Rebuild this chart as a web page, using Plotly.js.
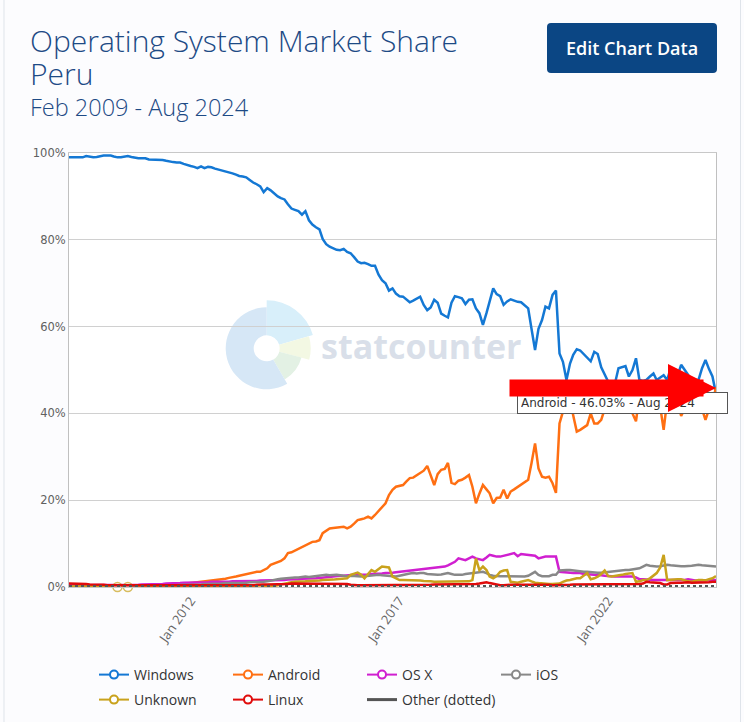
<!DOCTYPE html>
<html><head><meta charset="utf-8">
<script src="https://cdn.plot.ly/plotly-3.0.1.min.js"></script>
<style>html,body{margin:0;padding:0;background:#fff}#chart{width:744px;height:722px}</style>
</head><body><div id="chart"></div>
<script>
// ---------------- DATA ----------------
const startMonth = '2009-02';
const tickDates = ['2012-01-01', '2017-01-01', '2022-01-01'];
const tickLabels = ['Jan 2012', 'Jan 2017', 'Jan 2022'];
const yTickVals = [0, 20, 40, 60, 80, 100];
const yTickLabels = ['0%', '20%', '40%', '60%', '80%', '100%'];
const seriesNames = ['Windows', 'Android', 'OS X', 'iOS', 'Unknown', 'Linux', 'Other (dotted)'];
const titleLines = ['Operating System Market Share', 'Peru'];
const subtitle = 'Feb 2009 - Aug 2024';

const windows = [
99.0,99.0,99.0,99.0,99.0,99.3,99.1,99.0,99.1,99.3,
99.4,99.4,99.4,99.2,99.0,99.0,99.1,99.3,99.1,98.9,
98.8,98.8,98.8,98.5,98.5,98.5,98.5,98.4,98.2,98.0,
97.9,97.8,97.8,97.5,97.2,97.0,96.8,96.5,96.9,96.5,
96.8,96.7,96.4,96.2,96.0,95.8,95.5,95.3,95.0,94.7,
94.6,94.4,93.8,93.2,92.8,92.3,91.0,91.9,91.4,90.6,
90.0,89.6,89.3,88.2,87.2,86.9,86.6,85.8,86.6,84.5,
83.5,82.9,82.4,80.2,79.0,78.4,78.0,77.7,77.6,77.9,
77.2,76.9,76.0,75.0,74.6,74.7,74.4,74.0,74.0,72.0,
70.7,70.0,68.3,68.8,67.6,67.0,66.9,66.3,65.6,66.0,
66.5,66.9,65.0,63.8,64.4,66.2,65.5,63.0,62.5,62.1,
65.5,67.0,66.8,66.5,65.2,66.2,66.3,64.2,63.1,60.4,
63.1,66.0,68.8,67.5,67.0,65.0,65.8,66.3,66.0,65.7,
65.6,65.0,64.2,59.5,54.6,59.5,61.5,64.6,64.2,67.3,
68.3,53.8,51.9,47.7,51.5,53.5,54.8,54.5,53.6,52.9,
52.0,54.2,53.7,50.6,49.0,47.3,47.0,46.9,50.4,50.6,
50.9,48.5,50.0,52.7,47.7,47.5,47.7,48.5,49.2,47.7,
48.2,48.8,47.7,50.4,49.5,48.8,51.2,50.0,48.8,47.7,
47.7,47.7,50.4,52.3,50.2,48.5,44.5];

const android = [
0.0,0.0,0.0,0.0,0.0,0.1,0.1,0.1,0.1,0.1,
0.1,0.1,0.1,0.1,0.1,0.1,0.2,0.2,0.2,0.2,
0.2,0.2,0.3,0.3,0.3,0.3,0.4,0.4,0.5,0.5,
0.6,0.6,0.7,0.7,0.8,0.9,1.0,1.0,1.1,1.2,
1.3,1.4,1.5,1.6,1.7,1.9,2.1,2.2,2.4,2.6,
2.8,3.0,3.2,3.4,3.5,3.5,3.9,4.3,5.1,5.4,
5.8,6.0,6.6,7.8,8.0,8.4,8.8,9.3,9.6,10.0,
10.4,10.5,10.8,12.4,13.0,13.5,13.6,13.7,13.8,13.9,
13.5,13.9,14.6,15.4,15.6,15.8,16.2,15.8,16.6,17.4,
18.3,19.3,21.2,22.4,23.1,23.3,23.5,24.3,25.1,25.2,
25.8,26.3,26.8,27.9,25.5,23.5,26.0,27.0,27.2,28.6,
24.0,23.7,24.5,24.7,25.2,25.8,23.1,19.3,21.5,23.5,
22.5,21.6,19.3,20.5,20.6,22.4,20.4,22.0,22.5,23.1,
23.6,24.3,24.7,28.5,33.1,27.3,25.4,25.2,25.4,23.9,
21.7,37.7,40.4,44.0,43.1,39.5,35.8,36.2,36.8,37.3,
40.0,37.7,37.7,38.5,41.0,44.0,45.0,44.5,42.5,40.5,
41.0,42.5,40.0,38.2,44.0,44.0,44.5,44.0,43.0,42.5,
41.5,36.2,43.0,41.0,42.0,43.0,39.4,41.0,43.0,44.0,
44.0,43.0,41.0,38.5,41.0,42.5,46.03];

const osx = [
0.4,0.4,0.4,0.4,0.4,0.4,0.4,0.4,0.4,0.4,
0.4,0.4,0.5,0.5,0.5,0.5,0.5,0.5,0.5,0.5,
0.5,0.6,0.6,0.6,0.6,0.7,0.7,0.7,0.8,0.8,
0.8,0.9,0.9,1.0,1.0,1.0,1.0,1.1,1.1,1.1,
1.1,1.2,1.2,1.1,1.2,1.2,1.2,1.3,1.3,1.3,
1.3,1.3,1.4,1.4,1.4,1.5,1.5,1.6,1.5,1.5,
1.5,1.5,1.6,1.7,1.7,1.8,1.8,1.9,1.9,2.0,
2.0,2.0,2.1,2.2,2.3,2.4,2.4,2.5,2.6,2.6,
2.7,2.7,2.8,2.8,2.8,2.9,2.9,3.0,3.0,3.1,
3.1,3.2,3.2,3.3,3.4,3.5,3.6,3.7,3.8,3.9,
4.0,4.1,4.1,4.2,4.3,4.4,4.5,4.6,4.7,5.0,
5.5,5.8,6.6,6.4,6.2,6.6,7.0,6.6,6.4,6.2,
6.8,7.4,7.2,7.0,7.0,7.2,7.4,7.6,7.8,7.1,
7.6,7.5,7.4,7.4,7.2,6.6,6.8,7.0,7.0,7.0,
7.0,3.5,3.4,3.3,3.3,3.2,3.2,3.2,3.0,3.0,
2.9,2.8,2.8,2.7,2.6,2.5,2.4,2.4,2.4,2.4,
2.4,2.4,2.4,2.2,1.8,1.8,1.7,1.7,1.6,1.6,
1.6,1.6,1.5,1.5,1.5,1.5,1.5,1.6,1.8,1.6,
1.5,1.5,1.5,1.6,1.6,1.6,1.6];

const ios = [
0.1,0.1,0.1,0.1,0.1,0.1,0.1,0.1,0.1,0.1,
0.1,0.1,0.1,0.2,0.2,0.2,0.2,0.2,0.2,0.2,
0.2,0.3,0.3,0.3,0.3,0.3,0.3,0.4,0.4,0.4,
0.4,0.4,0.5,0.5,0.5,0.5,0.6,0.6,0.6,0.7,
0.7,0.7,0.8,0.8,0.8,0.9,0.9,0.9,1.0,1.0,
1.0,1.0,1.1,1.1,1.2,1.2,1.2,1.3,1.5,1.7,
1.8,1.9,2.0,2.0,2.1,2.2,2.2,2.3,2.4,2.3,
2.4,2.5,2.6,2.7,2.8,2.7,2.8,2.8,2.7,2.6,
2.5,2.6,2.5,2.4,2.4,2.5,2.6,2.7,2.8,2.8,
2.7,2.6,2.5,2.4,2.4,2.6,2.8,3.0,3.1,3.2,
3.1,3.2,3.2,3.0,2.9,2.8,2.8,2.9,3.1,3.2,
3.0,2.8,2.8,2.8,3.0,3.1,3.2,3.2,3.3,3.5,
3.2,2.8,2.6,2.5,2.5,2.5,2.5,2.5,2.5,2.5,
2.4,2.4,2.6,3.0,3.5,2.8,2.5,2.5,2.5,2.8,
2.8,3.8,3.9,3.9,3.9,3.8,3.7,3.5,3.5,3.5,
3.4,3.4,3.3,3.3,3.4,3.5,3.5,3.6,3.8,3.8,
3.9,3.9,4.0,4.1,4.3,4.7,5.1,4.9,4.8,4.7,
4.8,5.0,5.1,5.0,4.9,4.8,4.8,4.8,4.8,4.9,
5.0,5.1,5.0,4.9,4.8,4.8,4.7];

const unknown = [
0.1,0.1,0.1,0.1,0.1,0.1,0.1,0.1,0.1,0.1,
0.1,0.1,0.1,null,0.0,null,null,0.0,null,0.1,
0.1,0.1,0.1,0.1,0.1,0.1,0.1,0.1,0.1,0.1,
0.1,0.1,0.1,0.1,0.1,0.1,0.1,0.1,0.1,0.1,
0.1,0.1,0.1,0.1,0.2,0.2,0.2,0.2,0.2,0.2,
0.2,0.2,0.2,0.2,0.3,0.4,0.3,0.1,0.1,0.2,
0.4,0.6,0.8,1.0,1.1,1.2,1.2,1.2,1.3,1.4,
1.4,1.5,1.5,1.6,1.6,1.6,1.7,1.8,1.9,2.0,
2.0,2.8,3.0,3.3,2.8,2.0,3.0,3.9,3.5,4.0,
4.7,4.6,4.5,2.4,2.0,1.6,1.6,1.6,1.6,1.6,
1.6,1.5,1.4,1.4,1.3,1.2,1.2,1.2,1.2,1.2,
1.2,1.2,1.2,1.2,1.2,1.3,1.6,6.6,3.9,4.7,
3.9,2.4,2.0,2.5,3.5,3.8,3.9,1.2,1.1,1.0,
1.2,1.4,1.6,1.3,1.0,0.9,0.8,0.8,0.7,0.7,
0.7,0.8,1.2,1.5,1.6,1.8,2.0,2.0,2.6,3.2,
1.8,2.0,2.4,3.0,3.8,2.5,2.4,2.5,2.6,2.8,
3.0,3.1,3.2,1.2,1.3,1.6,1.6,2.0,2.6,3.2,
4.5,7.4,1.6,1.7,1.8,1.8,1.8,1.5,1.3,1.2,
1.4,1.6,1.6,1.5,1.8,2.0,2.5];

const linux = [
0.8,0.8,0.8,0.8,0.7,0.7,0.6,0.6,0.5,0.5,
0.5,0.4,0.4,0.4,0.4,0.4,0.4,0.4,0.4,0.4,
0.4,0.4,0.4,0.4,0.4,0.3,0.3,0.3,0.3,0.3,
0.3,0.3,0.3,0.3,0.3,0.3,0.3,0.3,0.3,0.3,
0.3,0.3,0.3,0.3,0.3,0.3,0.3,0.3,0.4,0.4,
0.4,0.4,0.4,0.4,0.5,0.6,0.6,0.6,0.6,0.7,
0.7,0.7,0.7,0.7,0.8,0.8,0.8,0.8,0.8,0.8,
0.8,0.8,0.8,0.8,0.8,0.8,0.8,0.8,0.8,0.8,
0.7,0.5,0.4,0.4,0.4,0.4,0.4,0.4,0.4,0.4,
0.4,0.4,0.4,0.4,0.4,0.4,0.4,0.4,0.4,0.4,
0.4,0.4,0.4,0.4,0.5,0.6,0.6,0.6,0.6,0.6,
0.6,0.6,0.6,0.6,0.6,0.6,0.6,0.7,0.8,1.0,
1.1,0.9,0.7,0.5,0.4,0.4,0.5,0.5,0.5,0.5,
0.6,0.6,0.6,0.6,0.6,0.6,0.6,0.6,0.5,0.4,
0.4,0.4,0.4,0.5,0.5,0.6,0.6,0.6,0.6,0.6,
0.6,0.7,0.7,0.7,0.7,0.7,0.7,0.7,0.7,0.7,
0.7,0.7,0.7,0.7,0.7,0.8,1.2,1.1,1.0,1.0,
0.9,0.6,0.6,0.9,1.0,1.0,1.0,1.1,1.1,1.0,
1.0,1.1,1.1,1.0,1.1,1.2,1.2];

const other = [
0.2,0.2,0.2,0.2,0.2,0.2,0.2,0.2,0.2,0.2,
0.2,0.1,0.1,0.1,0.1,0.1,0.1,0.1,0.1,0.1,
0.1,0.1,0.1,0.1,0.1,0.1,0.1,0.1,0.1,0.1,
0.1,0.1,0.1,0.1,0.1,0.1,0.1,0.1,0.1,0.1,
0.1,0.1,0.1,0.1,0.1,0.1,0.1,0.1,0.1,0.1,
0.1,0.1,0.1,0.1,0.1,0.1,0.1,0.1,0.1,0.1,
0.1,0.1,0.1,0.1,0.1,0.1,0.1,0.1,0.1,0.1,
0.1,0.1,0.1,0.1,0.1,0.1,0.1,0.1,0.1,0.1,
0.1,0.1,0.1,0.1,0.1,0.1,0.1,0.1,0.1,0.1,
0.1,0.1,0.1,0.1,0.1,0.1,0.1,0.1,0.1,0.1,
0.1,0.2,0.2,0.2,0.2,0.2,0.2,0.2,0.2,0.2,
0.2,0.2,0.2,0.2,0.2,0.2,0.2,0.2,0.2,0.2,
0.2,0.2,0.2,0.2,0.2,0.2,0.2,0.2,0.2,0.2,
0.2,0.2,0.2,0.2,0.2,0.2,0.2,0.2,0.2,0.2,
0.2,0.2,0.2,0.2,0.2,0.2,0.2,0.2,0.2,0.2,
0.2,0.2,0.2,0.2,0.2,0.2,0.2,0.2,0.2,0.2,
0.2,0.2,0.2,0.2,0.2,0.2,0.2,0.2,0.2,0.2,
0.2,0.2,0.2,0.2,0.2,0.2,0.2,0.2,0.2,0.2,
0.2,0.2,0.2,0.2,0.2,0.2,0.2];

const tooltipText = 'Android - 46.03% - Aug 2024';

// ---------------- STYLE ----------------
const colors = ['#1478d4', '#ff6f12', '#d01fd0', '#888888', '#c9a21c', '#e00b0b', '#555555'];
const W = 744, H = 722;
const M = {l: 69, r: 28, t: 153, b: 135, autoexpand: false};
const PW = W - M.l - M.r, PH = H - M.t - M.b;
const px = x => (x - M.l) / PW;
const py = y => (M.t + PH - y) / PH;

function monthDates(start, n) {
  const [y, m] = start.split('-').map(Number);
  const out = [];
  for (let k = 0; k < n; k++) {
    const t = (m - 1) + k;
    out.push((y + Math.floor(t / 12)) + '-' + String(t % 12 + 1).padStart(2, '0') + '-01');
  }
  return out;
}
const dates = monthDates(startMonth, windows.length);
const series = [windows, android, osx, ios, unknown, linux, other];

const traces = [];
series.forEach((vals, k) => {
  const isolated = vals.map((v, i) => (v !== null && (i === 0 || vals[i-1] === null) && (i === vals.length-1 || vals[i+1] === null)) ? 9 : 0);
  const hasIso = isolated.some(s => s > 0);
  traces.push({
    type: 'scatter', x: dates, y: vals, name: seriesNames[k], showlegend: false,
    mode: hasIso ? 'lines+markers' : 'lines', cliponaxis: false,
    connectgaps: false,
    line: {color: colors[k], width: 2.5, dash: k === 6 ? 'dot' : 'solid'},
    marker: {size: isolated, symbol: 'circle', color: '#ffffff', line: {color: colors[k], width: 1.5}},
    hoverinfo: 'skip'
  });
});
// legend entries: first row in legend, second row in legend2
seriesNames.forEach((nm, k) => {
  traces.push({
    type: 'scatter', x: [null], y: [null], name: nm, showlegend: true,
    legend: k < 4 ? 'legend' : 'legend2',
    mode: k === 6 ? 'lines' : 'lines+markers',
    line: {color: colors[k], width: k === 6 ? 3 : 2},
    marker: {size: 8, symbol: 'circle', color: '#ffffff', line: {color: colors[k], width: 2}}
  });
});

// watermark logo (decoration)
function seg(cx, cy, r0, r1, a0, a1) {
  const p = (r, a) => [(cx + r * Math.sin(a * Math.PI / 180)).toFixed(2), (cy - r * Math.cos(a * Math.PI / 180)).toFixed(2)];
  const lg = (a1 - a0) > 180 ? 1 : 0;
  const o0 = p(r1, a0), o1 = p(r1, a1), i1 = p(r0, a1), i0 = p(r0, a0);
  return `M${o0} A${r1},${r1} 0 ${lg} 1 ${o1} L${i1} A${r0},${r0} 0 ${lg} 0 ${i0} Z`;
}
const svg = `<svg xmlns="http://www.w3.org/2000/svg" width="100" height="100" viewBox="0 0 100 100">` +
  `<path d="${seg(50,50,13,48,0,74)}" fill="#d8effa"/>` +
  `<path d="${seg(50,50,13,44,74,105)}" fill="#f3f8e3"/>` +
  `<path d="${seg(50,50,13,36,105,150)}" fill="#e3f1e4"/>` +
  `<path d="${seg(50,50,13,41,150,359.99)}" fill="#d6e7f6"/></svg>`;
const logoSrc = 'data:image/svg+xml;base64,' + btoa(svg);

// button rounded rect path (paper coords)
function roundRect(x0p, y0p, x1p, y1p, r) {
  const a = px(x0p), b = px(x1p), top = py(y0p), bot = py(y1p);
  const rx = r / PW, ry = r / PH;
  return `M${a+rx},${top} L${b-rx},${top} Q${b},${top} ${b},${top-ry} L${b},${bot+ry} Q${b},${bot} ${b-rx},${bot} ` +
         `L${a+rx},${bot} Q${a},${bot} ${a},${bot+ry} L${a},${top-ry} Q${a},${top} ${a+rx},${top} Z`;
}

// one title block: base size 25 gives ~32.5px line spacing, glyphs drawn at 30px
const titleText = titleLines.map(t => `<span style="font-size:30px">${t}</span>`).join('<br>');
const legendBase = {
  orientation: 'h', xanchor: 'left', yanchor: 'middle',
  entrywidth: 89, entrywidthmode: 'pixels', itemwidth: 30,
  font: {family: 'Open Sans', size: 14, color: '#333333'},
  bgcolor: 'rgba(0,0,0,0)', traceorder: 'normal'
};

const layout = {
  width: W, height: H,
  margin: M,
  paper_bgcolor: '#fcfcfe',
  plot_bgcolor: '#ffffff',
  showlegend: true,
  hovermode: false,
  xaxis: {
    type: 'date', range: [dates[0], dates[dates.length - 1]],
    tickvals: tickDates, ticktext: tickLabels, tickangle: -55,
    showgrid: false, zeroline: false, automargin: false,
    showline: true, mirror: true, linecolor: '#c8c8c8', linewidth: 1,
    ticks: '', tickfont: {family: 'Open Sans', size: 13, color: '#666666'}
  },
  yaxis: {
    range: [0, 100], tickvals: yTickVals, ticktext: yTickLabels, automargin: false,
    showgrid: true, gridcolor: '#d0d0d0', gridwidth: 1, zeroline: false,
    showline: true, mirror: true, linecolor: '#c0c0c0',
    ticks: '', tickfont: {family: 'DejaVu Sans', size: 11.5, color: '#606060'}
  },
  legend: Object.assign({}, legendBase, {x: px(94), y: py(675)}),
  legend2: Object.assign({}, legendBase, {x: px(94), y: py(700)}),
  images: [{
    source: logoSrc, xref: 'paper', yref: 'paper',
    x: px(216.7), y: py(298.3), sizex: 100 / PW, sizey: 100 / PH,
    xanchor: 'left', yanchor: 'top', sizing: 'stretch', layer: 'below'
  }],
  shapes: [
    {type: 'rect', xref: 'paper', yref: 'paper', x0: px(4), x1: px(740.5), y0: py(760), y1: py(-20),
     line: {color: '#dfe4ea', width: 1}, fillcolor: 'rgba(0,0,0,0)', layer: 'below'},
    {type: 'path', xref: 'paper', yref: 'paper', path: roundRect(547, 23, 717, 73, 4),
     fillcolor: '#0b4684', line: {width: 0}}
  ],
  annotations: [
    {text: titleText, xref: 'paper', yref: 'paper', x: px(28), y: py(57),
     xanchor: 'left', yanchor: 'middle', align: 'left', showarrow: false,
     font: {family: 'Open Sans', size: 25, color: '#1d4a85', weight: 300}},
    {text: subtitle, xref: 'paper', yref: 'paper', x: px(28), y: py(107),
     xanchor: 'left', yanchor: 'middle', showarrow: false,
     font: {family: 'Open Sans', size: 23.5, color: '#1d4a85', weight: 300}},
    {text: 'Edit Chart Data', xref: 'paper', yref: 'paper', x: px(632), y: py(48),
     xanchor: 'center', yanchor: 'middle', showarrow: false,
     font: {family: 'Open Sans', size: 18, color: '#ffffff', weight: 600}},
    {text: 'statcounter', xref: 'paper', yref: 'paper', x: px(421), y: py(346),
     xanchor: 'center', yanchor: 'middle', showarrow: false,
     font: {family: 'Open Sans', size: 34, color: '#d9dfe9', weight: 700}},
    {text: tooltipText, xref: 'paper', yref: 'paper', x: px(517), y: py(403),
     xanchor: 'left', yanchor: 'middle', showarrow: false, align: 'left',
     width: 203, height: 14, bgcolor: '#ffffff', bordercolor: '#555555', borderwidth: 1, borderpad: 3,
     font: {family: 'DejaVu Sans', size: 12, color: '#333333'}},
    {text: '', xref: 'paper', yref: 'paper', x: 1, y: py(388),
     ax: -208, ay: 0, showarrow: true, arrowhead: 2, arrowsize: 0.565, arrowwidth: 17,
     arrowcolor: '#ff0000', standoff: 0}
  ]
};

Plotly.newPlot('chart', traces, layout, {staticPlot: true, displayModeBar: false});
</script>
</body></html>
